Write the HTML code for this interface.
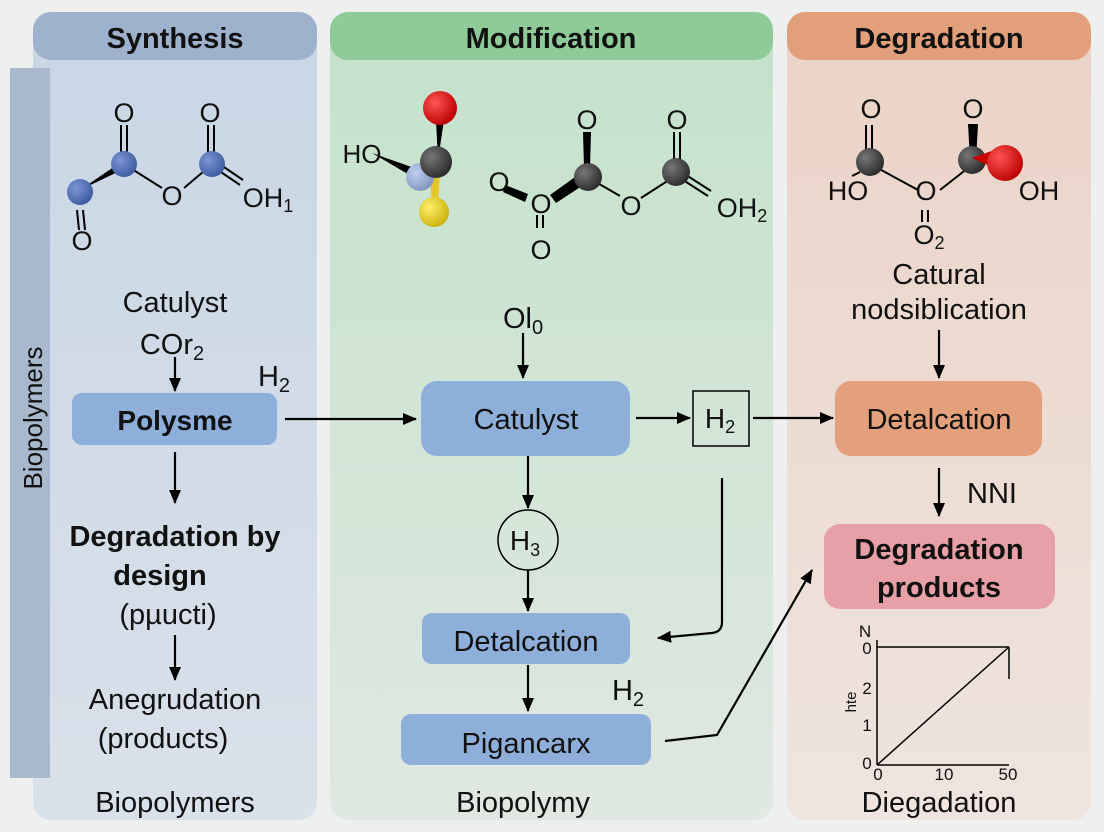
<!DOCTYPE html>
<html><head><meta charset="utf-8"><style>
html,body{margin:0;padding:0;background:#eef0f0;}
svg{display:block;font-family:"Liberation Sans",sans-serif;}
</style></head><body>
<svg width="1104" height="832" viewBox="0 0 1104 832" xmlns="http://www.w3.org/2000/svg">
<defs>
<linearGradient id="gm" x1="0" y1="0" x2="0" y2="1"><stop offset="0" stop-color="#c3e2ca"/><stop offset="1" stop-color="#e0e8e2"/></linearGradient>
<linearGradient id="gd" x1="0" y1="0" x2="0" y2="1"><stop offset="0" stop-color="#ebd3c6"/><stop offset="1" stop-color="#efe4df"/></linearGradient>
<linearGradient id="gs" x1="0" y1="0" x2="0" y2="1"><stop offset="0" stop-color="#c9d6e5"/><stop offset="1" stop-color="#d9e1ea"/></linearGradient>
<marker id="a" markerWidth="14" markerHeight="12" refX="13" refY="6" orient="auto" markerUnits="userSpaceOnUse"><path d="M0,0 L14,6 L0,12 z" fill="#000"/></marker>
<radialGradient id="bb" cx="0.35" cy="0.35" r="0.7"><stop offset="0" stop-color="#7c96d6"/><stop offset="1" stop-color="#3c5aa0"/></radialGradient>
<radialGradient id="gg" cx="0.35" cy="0.35" r="0.7"><stop offset="0" stop-color="#777"/><stop offset="1" stop-color="#2a2a2a"/></radialGradient>
<radialGradient id="rr" cx="0.35" cy="0.35" r="0.7"><stop offset="0" stop-color="#f55"/><stop offset="1" stop-color="#b00"/></radialGradient>
<radialGradient id="yy" cx="0.35" cy="0.35" r="0.7"><stop offset="0" stop-color="#ffef6a"/><stop offset="1" stop-color="#c9b00c"/></radialGradient>
<radialGradient id="lb" cx="0.35" cy="0.35" r="0.7"><stop offset="0" stop-color="#c0d0ee"/><stop offset="1" stop-color="#7f95c0"/></radialGradient>
</defs>
<rect width="1104" height="832" fill="#eef0f0"/>
<rect x="33" y="12" width="284" height="808" rx="18" fill="url(#gs)"/>
<rect x="33" y="12" width="284" height="48" rx="18" fill="#9fb2cd"/>
<rect x="330" y="12" width="443" height="808" rx="18" fill="url(#gm)"/>
<rect x="330" y="12" width="443" height="48" rx="18" fill="#8fcb98"/>
<rect x="787" y="12" width="304" height="808" rx="18" fill="url(#gd)"/>
<rect x="787" y="12" width="304" height="48" rx="18" fill="#e1a07b"/>
<rect x="10" y="68" width="40" height="710" fill="#a8b8cd"/>
<text transform="translate(42,418) rotate(-90)" text-anchor="middle" font-size="26" fill="#111">Biopolymers</text>
<g font-weight="bold" font-size="29" text-anchor="middle" fill="#111">
<text x="175" y="48">Synthesis</text><text x="551" y="48">Modification</text><text x="939" y="48">Degradation</text>
</g>
<!-- synthesis molecule -->
<g stroke="#000" stroke-width="2" fill="none">
<line x1="121" y1="125" x2="121" y2="160"/><line x1="127" y1="125" x2="127" y2="160"/>
<line x1="124" y1="164" x2="162" y2="188"/><line x1="184" y1="188" x2="210" y2="166"/>
<line x1="208" y1="125" x2="208" y2="160"/><line x1="214" y1="125" x2="214" y2="160"/>
<line x1="212" y1="166" x2="240" y2="185"/><line x1="215" y1="161" x2="243" y2="180"/>
<line x1="77" y1="210" x2="79" y2="230"/><line x1="83" y1="210" x2="85" y2="230"/>
</g>
<path d="M80,190 L124,160 L126,168 Z" fill="#000"/>
<circle cx="124" cy="164" r="13" fill="url(#bb)"/><circle cx="212" cy="164" r="13" fill="url(#bb)"/><circle cx="80" cy="192" r="13" fill="url(#bb)"/>
<g font-size="27" fill="#111" text-anchor="middle">
<text x="124" y="122">O</text><text x="210" y="122">O</text><text x="172" y="205">O</text><text x="82" y="250">O</text>
<text x="268" y="207">OH<tspan font-size="18" dy="5">1</tspan></text>
</g>
<!-- modification molecule 1 -->
<path d="M372,153 L420,170 L418,180 Z" fill="#000"/>
<path d="M436,120 L444,120 L438,160 Z" fill="#000"/>
<path d="M430,170 L440,170 L438,210 L432,210 Z" fill="#e3c62a"/>
<circle cx="440" cy="108" r="17" fill="url(#rr)"/>
<circle cx="420" cy="177" r="14" fill="url(#lb)"/>
<circle cx="436" cy="162" r="16" fill="url(#gg)"/>
<circle cx="434" cy="212" r="15" fill="url(#yy)"/>
<text x="362" y="163" font-size="26" text-anchor="middle" fill="#111">HO</text>
<!-- modification molecule 2 -->
<g stroke="#000" stroke-width="2" fill="none">
<line x1="589" y1="178" x2="620" y2="196"/><line x1="641" y1="198" x2="672" y2="178"/>
<line x1="674" y1="132" x2="674" y2="167"/><line x1="680" y1="132" x2="680" y2="167"/>
<line x1="680" y1="178" x2="708" y2="196"/><line x1="683" y1="173" x2="711" y2="191"/>
<line x1="537" y1="215" x2="537" y2="228"/><line x1="543" y1="215" x2="543" y2="228"/>
</g>
<path d="M583,132 L591,132 L590,168 L584,168 Z" fill="#000"/>
<path d="M505,185 L528,194 L525,202 L503,192 Z" fill="#000"/>
<path d="M550,195 L582,172 L588,182 L556,203 Z" fill="#000"/>
<circle cx="588" cy="177" r="14" fill="url(#gg)"/><circle cx="676" cy="172" r="14" fill="url(#gg)"/>
<g font-size="27" fill="#111" text-anchor="middle">
<text x="587" y="129">O</text><text x="677" y="129">O</text><text x="631" y="215">O</text>
<text x="499" y="191">O</text><text x="541" y="213">O</text><text x="541" y="259">O</text>
<text x="742" y="217">OH<tspan font-size="18" dy="5">2</tspan></text>
</g>
<!-- degradation molecule -->
<g stroke="#000" stroke-width="2" fill="none">
<line x1="866" y1="125" x2="866" y2="155"/><line x1="872" y1="125" x2="872" y2="155"/>
<line x1="872" y1="165" x2="918" y2="190"/><line x1="940" y1="190" x2="968" y2="168"/>
<line x1="860" y1="172" x2="852" y2="176"/>
<line x1="922" y1="210" x2="922" y2="222"/><line x1="928" y1="210" x2="928" y2="222"/>
</g>
<path d="M968,124 L978,124 L976,160 L970,160 Z" fill="#000"/>
<circle cx="870" cy="162" r="14" fill="url(#gg)"/><circle cx="972" cy="160" r="14" fill="url(#gg)"/>
<path d="M972,158 L1000,148 L1010,175 Z" fill="#c00"/>
<circle cx="1005" cy="163" r="18" fill="url(#rr)"/>
<g font-size="27" fill="#111" text-anchor="middle">
<text x="871" y="118">O</text><text x="973" y="118">O</text><text x="926" y="200">O</text>
<text x="929" y="244">O<tspan font-size="18" dy="5">2</tspan></text>
<text x="848" y="200">HO</text><text x="1039" y="200">OH</text>
</g>
<!-- text labels -->
<g font-size="29" fill="#111" text-anchor="middle">
<text x="175" y="312">Catulyst</text>
<text x="172" y="354">COr<tspan font-size="20" dy="6">2</tspan></text>
<text x="274" y="386">H<tspan font-size="20" dy="6">2</tspan></text>
<text x="523" y="328">Ol<tspan font-size="20" dy="6">0</tspan></text>
<text x="939" y="284">Catural</text>
<text x="939" y="319">nodsiblication</text>
<text x="992" y="503">NNI</text>
<text x="628" y="700">H<tspan font-size="20" dy="6">2</tspan></text>
<text x="175" y="709">Anegrudation</text>
<text x="163" y="748">(products)</text>
<text x="175" y="812">Biopolymers</text>
<text x="523" y="812">Biopolymy</text>
<text x="939" y="812">Diegadation</text>
<text x="168" y="624">(pµucti)</text>
</g>
<g font-size="29" font-weight="bold" fill="#111" text-anchor="middle">
<text x="175" y="546">Degradation by</text>
<text x="160" y="585">design</text>
</g>
<!-- nodes -->
<rect x="72" y="393" width="205" height="52" rx="10" fill="#8eafd9"/>
<text x="175" y="430" font-size="28" font-weight="bold" text-anchor="middle" fill="#111">Polysme</text>
<rect x="421" y="381" width="209" height="75" rx="16" fill="#8eafd9"/>
<text x="526" y="429" font-size="29" text-anchor="middle" fill="#111">Catulyst</text>
<rect x="693" y="391" width="56" height="55" fill="none" stroke="#000" stroke-width="1.5"/>
<text x="720" y="428" font-size="28" text-anchor="middle" fill="#111">H<tspan font-size="18" dy="5">2</tspan></text>
<rect x="835" y="381" width="207" height="75" rx="16" fill="#e3a07a"/>
<text x="939" y="429" font-size="29" text-anchor="middle" fill="#111">Detalcation</text>
<rect x="824" y="524" width="231" height="85" rx="16" fill="#e6a0a6"/>
<text x="939" y="559" font-size="29" font-weight="bold" text-anchor="middle" fill="#111">Degradation</text>
<text x="939" y="597" font-size="29" font-weight="bold" text-anchor="middle" fill="#111">products</text>
<circle cx="528" cy="540" r="30" fill="none" stroke="#000" stroke-width="1.5"/>
<text x="525" y="550" font-size="28" text-anchor="middle" fill="#111">H<tspan font-size="18" dy="6">3</tspan></text>
<rect x="422" y="613" width="208" height="51" rx="10" fill="#8eafd9"/>
<text x="526" y="651" font-size="29" text-anchor="middle" fill="#111">Detalcation</text>
<rect x="401" y="714" width="250" height="51" rx="10" fill="#8eafd9"/>
<text x="526" y="753" font-size="29" text-anchor="middle" fill="#111">Pigancarx</text>
<!-- arrows -->
<g stroke="#000" stroke-width="2.2" fill="none" marker-end="url(#a)">
<line x1="175" y1="357" x2="175" y2="391"/>
<line x1="175" y1="452" x2="175" y2="503"/>
<line x1="175" y1="635" x2="175" y2="680"/>
<line x1="285" y1="419" x2="416" y2="419"/>
<line x1="523" y1="333" x2="523" y2="378"/>
<line x1="636" y1="418" x2="690" y2="418"/>
<line x1="753" y1="418" x2="833" y2="418"/>
<line x1="528" y1="456" x2="528" y2="508"/>
<line x1="528" y1="570" x2="528" y2="611"/>
<line x1="528" y1="665" x2="528" y2="711"/>
<path d="M722,478 L722,622 Q722,632 712,633 L658,638"/>
<path d="M665,741 L717,735 L812,570"/>
<line x1="939" y1="330" x2="939" y2="378"/>
<line x1="939" y1="468" x2="939" y2="516"/>
</g>
<!-- chart -->
<g stroke="#000" stroke-width="1.5" fill="none">
<line x1="877" y1="640" x2="877" y2="765"/>
<line x1="877" y1="765" x2="1009" y2="765"/>
<line x1="877" y1="647" x2="1009" y2="647"/>
<line x1="1009" y1="647" x2="1009" y2="679"/>
<line x1="877" y1="765" x2="1009" y2="647"/>
</g>
<g font-size="17" fill="#111" text-anchor="middle">
<text x="865" y="637">N</text><text x="867" y="654">0</text><text x="867" y="694">2</text><text x="867" y="731">1</text><text x="867" y="769">0</text>
<text x="878" y="780">0</text><text x="944" y="780">10</text><text x="1008" y="780">50</text>
<text transform="translate(856,702) rotate(-90)" font-size="15">hte</text>
</g>
</svg>
</body></html>
